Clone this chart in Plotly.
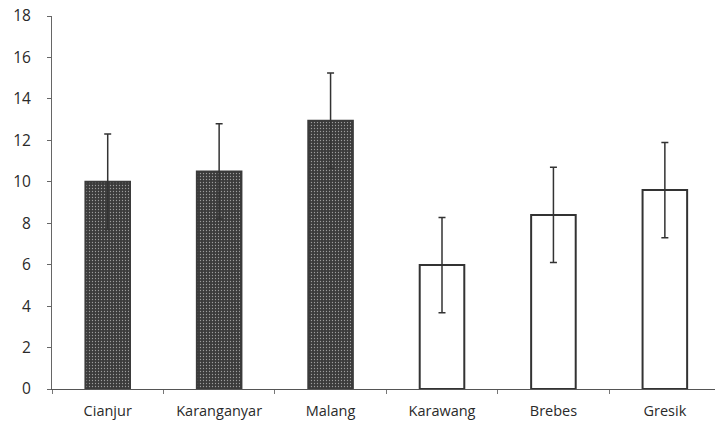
import plotly.graph_objects as go

categories = ["Cianjur", "Karanganyar", "Malang", "Karawang", "Brebes", "Gresik"]
values = [10.0, 10.5, 12.95, 5.98, 8.4, 9.6]
errors = [2.3, 2.3, 2.3, 2.3, 2.3, 2.3]
y_ticks = [0, 2, 4, 6, 8, 10, 12, 14, 16, 18]

fill_colors = ["#3b3b3b", "#3b3b3b", "#3b3b3b", "white", "white", "white"]
line_colors = ["#3b3b3b", "#3b3b3b", "#3b3b3b", "#333333", "#333333", "#333333"]
patterns = [".", ".", ".", "", "", ""]

fig = go.Figure()
fig.add_trace(go.Bar(
    x=categories, y=values, width=0.4,
    marker=dict(color=fill_colors,
                line=dict(color=line_colors, width=2),
                pattern=dict(shape=patterns, fgcolor="#8a8a8a", bgcolor="#2e2e2e",
                             size=3, solidity=0.15, fillmode="overlay")),
    error_y=dict(type="data", array=errors, visible=True,
                 color="#333333", thickness=1.5, width=3.5),
))

fig.update_layout(
    width=719, height=429,
    margin=dict(l=52, r=4, t=16, b=40, autoexpand=False),
    paper_bgcolor="white", plot_bgcolor="white",
    showlegend=False,
    font=dict(family="Open Sans", size=14, color="#2a2a2a"),
    bargap=0.6,
)
fig.update_xaxes(
    range=[-0.5, 5.45], showgrid=False, zeroline=False,
    showline=True, linecolor="#555555", linewidth=1,
    ticks="outside", ticklen=4, tickcolor="#777777", tickson="boundaries",
    ticklabelstandoff=9,
    tickfont=dict(size=14.5, family="Open Sans"),
    automargin=False,
)
fig.update_yaxes(
    range=[0, 18], tickvals=y_ticks, showgrid=False, zeroline=False,
    showline=True, linecolor="#666666", linewidth=1,
    ticks="outside", ticklen=4, tickcolor="#666666",
    ticklabelstandoff=13,
    tickfont=dict(size=15.5, family="Open Sans"),
    automargin=False,
)

fig.write_html("out.html", config={"displayModeBar": False},
               post_script="document.body.style.margin='0';document.body.style.padding='0';")
